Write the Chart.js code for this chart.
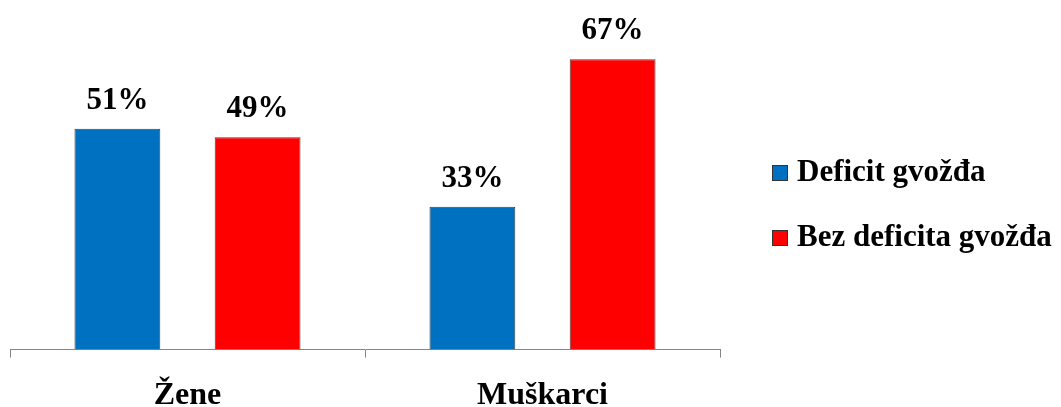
<!DOCTYPE html>
<html>
<head>
<meta charset="utf-8">
<script src="https://cdn.jsdelivr.net/npm/chart.js@4"></script>
<style>
  html, body { margin: 0; padding: 0; background: #fff; }
  #grafico_wrap { width: 1061px; height: 407px; position: relative; }
</style>
</head>
<body>
<div id="grafico_wrap"><canvas id="grafico"></canvas></div>
<script>
const kategorije = ["Žene", "Muškarci"];
const deficit = [51, 33];
const bezDeficita = [49, 67];
const nazivi = ["Deficit gvožđa", "Bez deficita gvožđa"];

const fontSerif = "'Liberation Serif', 'Times New Roman', serif";

//procenti iznad stubova
const oznakeVrednosti = {
  id: "oznakeVrednosti",
  afterDatasetsDraw(chart) {
    const ctx = chart.ctx;
    ctx.save();
    ctx.font = "bold 31px " + fontSerif;
    ctx.fillStyle = "#000";
    ctx.textAlign = "center";
    ctx.textBaseline = "alphabetic";
    chart.data.datasets.forEach((ds, i) => {
      chart.getDatasetMeta(i).data.forEach((bar, j) => {
        ctx.fillText(ds.data[j] + "%", bar.x, bar.y - 20);
      });
    });
    ctx.restore();
  },
};

//legenda desno, crtana rucno
const legendaDesno = {
  id: "legendaDesno",
  afterDraw(chart) {
    const ctx = chart.ctx;
    ctx.save();
    ctx.font = "bold 31px " + fontSerif;
    ctx.textBaseline = "middle";
    ctx.textAlign = "left";
    chart.data.datasets.forEach((ds, i) => {
      const y = 173 + i * 65;
      ctx.fillStyle = ds.backgroundColor;
      ctx.fillRect(772, y - 8, 16, 16);
      ctx.strokeStyle = "#333";
      ctx.lineWidth = 1;
      ctx.strokeRect(772.5, y - 7.5, 15, 15);
      ctx.fillStyle = "#000";
      ctx.fillText(ds.label, 797, y);
    });
    ctx.restore();
  },
};

new Chart(document.getElementById("grafico"), {
  type: "bar",
  data: {
    labels: kategorije,
    datasets: [
      {
        label: nazivi[0],
        data: deficit,
        backgroundColor: "#0070C0",
        borderColor: "#404040",
        borderWidth: 1,
      },
      {
        label: nazivi[1],
        data: bezDeficita,
        backgroundColor: "#FF0000",
        borderColor: "#404040",
        borderWidth: 1,
      },
    ],
  },
  options: {
    responsive: true,
    maintainAspectRatio: false,
    animation: false,
    categoryPercentage: 0.79,
    barPercentage: 0.612,
    layout: {
      padding: { left: 10, right: 341, top: 3, bottom: -27 },
    },
    plugins: {
      legend: { display: false },
      tooltip: { enabled: false },
    },
    scales: {
      x: {
        grid: {
          offset: true,
          drawOnChartArea: false,
          tickLength: 8,
          color: "#868686",
        },
        border: { color: "#868686" },
        ticks: {
          color: "#000",
          padding: 19,
          font: { family: fontSerif, size: 32, weight: "bold" },
        },
      },
      y: {
        display: false,
        min: 0,
        max: 80,
      },
    },
  },
  plugins: [oznakeVrednosti, legendaDesno],
});
</script>
</body>
</html>
